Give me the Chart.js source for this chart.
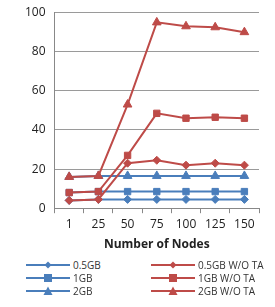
<!DOCTYPE html>
<html>
<head>
<meta charset="utf-8">
<script src="https://cdn.jsdelivr.net/npm/chart.js@4"></script>
<style>
  html, body { margin: 0; padding: 0; background: #fff; }
  #wrap { position: relative; width: 275px; height: 256px; }
  #legend { position: absolute; left: 26px; top: 259px; width: 250px; font-family: "Open Sans", sans-serif; font-size: 10px; color: #333; }
  .item { position: absolute; height: 12px; display: flex; align-items: center; }
  .item canvas { margin-right: 3px; }
</style>
</head>
<body>
<div id="wrap"><canvas id="c"></canvas></div>
<div id="legend"></div>
<script>
const nodes = ['1', '25', '50', '75', '100', '125', '150'];
const ta05 = [4, 4.5, 4.5, 4.5, 4.5, 4.5, 4.5];
const ta1 = [8, 8.5, 8.5, 8.5, 8.5, 8.5, 8.5];
const ta2 = [16, 16.5, 16.5, 16.5, 16.5, 16.5, 16.5];
const noTa05 = [4, 4.5, 23, 24.5, 22, 23, 22];
const noTa1 = [8, 8.5, 27, 48.5, 46, 46.5, 46];
const noTa2 = [16, 16.5, 53, 95, 93, 92.5, 90];
const yTicks = [0, 20, 40, 60, 80, 100];

const blue = '#4a7ebb';
const red = '#be4b48';

const series = [
  { label: '0.5GB', data: ta05, color: blue, style: 'rectRot', r: 4, order: 1 },
  { label: '1GB', data: ta1, color: blue, style: 'rect', r: 4.5, order: 1 },
  { label: '2GB', data: ta2, color: blue, style: 'triangle', r: 5, order: 1 },
  { label: '0.5GB W/O TA', data: noTa05, color: red, style: 'rectRot', r: 4, order: 0 },
  { label: '1GB W/O TA', data: noTa1, color: red, style: 'rect', r: 4.5, order: 0 },
  { label: '2GB W/O TA', data: noTa2, color: red, style: 'triangle', r: 5, order: 0 }
];

const font = { family: '"Open Sans", sans-serif', size: 12 };

new Chart(document.getElementById('c'), {
  type: 'line',
  data: {
    labels: nodes,
    datasets: series.map(s => ({
      label: s.label, data: s.data, order: s.order,
      borderColor: s.color, backgroundColor: s.color,
      borderWidth: 2, pointStyle: s.style, pointRadius: s.r,
      pointBorderWidth: 1, tension: 0
    }))
  },
  options: {
    responsive: true, maintainAspectRatio: false, animation: false,
    layout: { padding: { left: 16, right: 16, top: 0, bottom: 0 } },
    plugins: { legend: { display: false }, tooltip: { enabled: false } },
    scales: {
      x: {
        offset: true,
        grid: { offset: true, drawOnChartArea: false, drawTicks: true, tickLength: 5, color: '#888' },
        border: { color: '#888' },
        ticks: { color: '#222', font, padding: 4 },
        title: { display: true, text: 'Number of Nodes', color: '#222', font: { family: font.family, size: 12, weight: 'bold' }, padding: { top: 2 } }
      },
      y: {
        min: 0, max: 100,
        afterBuildTicks: a => { a.ticks = yTicks.map(v => ({ value: v })); },
        grid: { color: '#9a9a9a', drawTicks: false },
        border: { color: '#888' },
        ticks: { color: '#222', font: { family: font.family, size: 12, lineHeight: 0.6 }, padding: 9 }
      }
    }
  }
});

// legend in two columns like the source
const leg = document.getElementById('legend');
series.forEach((s, i) => {
  const col = i < 3 ? 0 : 1, row = i % 3;
  const d = document.createElement('div');
  d.className = 'item';
  d.style.left = (col * 125) + 'px';
  d.style.top = (row * 13) + 'px';
  const cv = document.createElement('canvas');
  cv.width = 44; cv.height = 12;
  const g = cv.getContext('2d');
  g.strokeStyle = s.color; g.fillStyle = s.color; g.lineWidth = 2;
  g.beginPath(); g.moveTo(0, 6); g.lineTo(44, 6); g.stroke();
  g.beginPath();
  if (s.style === 'rectRot') { g.moveTo(22, 2.5); g.lineTo(25.5, 6); g.lineTo(22, 9.5); g.lineTo(18.5, 6); }
  else if (s.style === 'rect') { g.rect(18, 2, 8, 8); }
  else { g.moveTo(22, 1.5); g.lineTo(26.5, 10); g.lineTo(17.5, 10); }
  g.closePath(); g.fill();
  d.appendChild(cv);
  const t = document.createElement('span');
  t.textContent = s.label;
  d.appendChild(t);
  leg.appendChild(d);
});
</script>
</body>
</html>
